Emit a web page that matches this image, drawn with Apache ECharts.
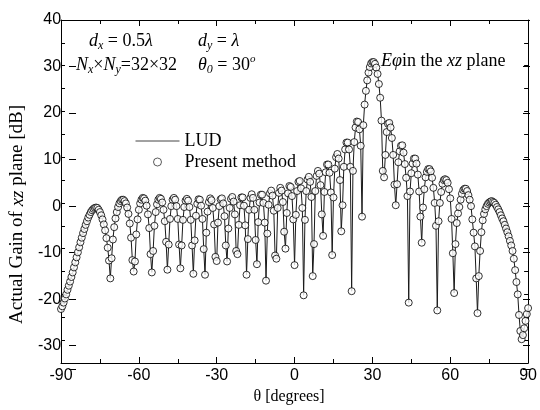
<!DOCTYPE html>
<html>
<head>
<meta charset="utf-8">
<script src="https://cdn.jsdelivr.net/npm/echarts@6/dist/echarts.min.js"></script>
<style>
  html, body { margin: 0; padding: 0; background: #fff; }
  #chart { width: 540px; height: 410px; }
</style>
</head>
<body>
<div id="chart"></div>
<script>
// angle grid of the pattern samples (degrees)
var thetaStart = -90;
var thetaStep = 0.5;
// actual gain in the xz plane [dB], one value every 0.5 deg from -90 to 90
var gainDb = [
  -23.2, -22.6, -21.8, -20.9, -20.0, -19.0, -18.1, -17.2, -16.2, -15.2,  // -90
  -14.1, -13.0, -11.9, -10.8, -9.7, -8.6, -7.6, -6.6, -5.7, -4.8,        // -85
  -4.0, -3.2, -2.6, -2.0, -1.6, -1.3, -1.1, -1.0, -1.1, -1.5,            // -80
  -2.0, -2.7, -3.6, -4.7, -6.0, -7.7, -9.8, -12.6, -16.5, -12.1,         // -75
  -8.0, -5.3, -3.4, -2.0, -0.9, -0.1, 0.4, 0.7, 0.7, 0.4,                // -70
  -0.1, -1.0, -2.4, -4.5, -7.6, -12.5, -15.0, -12.8, -6.9, -3.6,         // -65
  -1.5, -0.1, 0.7, 1.1, 1.0, 0.5, -0.6, -2.5, -5.5, -11.2,               // -60
  -15.2, -10.5, -5.0, -2.0, -0.3, 0.7, 1.1, 0.9, 0.1, -1.5,              // -55
  -4.0, -8.5, -14.6, -9.1, -3.5, -0.7, 0.7, 1.1, 0.7, -0.7,              // -50
  -3.5, -9.1, -14.3, -9.3, -3.7, -0.9, 0.5, 0.9, 0.5, -0.9,              // -45
  -3.7, -9.3, -15.5, -8.2, -2.8, -0.2, 0.8, 0.7, -0.6, -3.5,             // -40
  -10.1, -15.7, -6.5, -1.9, 0.2, 1.0, 0.6, -1.1, -4.7, -11.8,            // -35
  -12.7, -4.3, -0.7, 0.8, 1.0, -0.1, -2.9, -9.3, -12.8, -5.6,            // -30
  -1.1, 0.9, 1.3, 0.3, -2.5, -10.5, -11.2, -4.8, -0.5, 1.2,              // -25
  1.2, -0.6, -4.9, -15.7, -7.9, -1.5, 1.1, 1.9, 1.1, -1.5,               // -20
  -8.1, -13.4, -4.2, 0.1, 1.8, 1.8, 0.0, -4.3, -17.0, -6.7,              // -15
  -0.4, 2.1, 2.7, 1.6, -1.7, -11.5, -12.2, -1.1, 2.2, 3.3,               // -10
  2.7, 0.2, -6.3, -10.0, -2.2, 2.1, 3.7, 3.5, 1.5, -3.6,                 // -5
  -13.6, -2.6, 2.6, 4.6, 4.8, 3.2, -1.1, -20.2, -3.7, 2.6,               // 0
  5.1, 5.7, 4.6, 1.3, -16.0, -9.0, 2.6, 5.9, 7.0, 6.4,                   // 5
  3.9, -2.5, -7.2, 2.4, 6.7, 8.4, 8.4, 6.6, 2.3, -11.4,                  // 10
  1.2, 7.5, 10.0, 10.7, 9.7, 5.0, -6.2, -0.5, 7.9, 11.7,                 // 15
  13.2, 13.2, 11.7, 7.9, -19.3, 7.0, 13.3, 16.5, 17.8, 17.7,             // 20
  16.1, 12.5, -3.0, 17.0, 21.5, 24.5, 26.8, 28.5, 29.7, 30.5,            // 25
  30.8, 30.8, 30.4, 29.6, 28.2, 26.0, 23.0, 18.0, 7.0, 5.6,              // 30
  10.5, 15.5, 17.3, 17.5, 16.5, 14.2, 10.5, 4.0, -0.5, 4.1,              // 35
  8.9, 11.3, 12.5, 12.6, 11.0, 8.5, 5.5, 1.5, -21.8, 2.5,                // 40
  6.5, 8.6, 9.7, 9.7, 8.6, 6.2, 2.5, -3.0, -8.7, -1.0,                   // 45
  3.0, 5.6, 6.8, 7.4, 7.4, 6.9, 5.5, 3.3, 0.0, -5.0,                     // 50
  -23.5, -4.0, 0.0, 2.4, 4.2, 5.0, 5.2, 5.0, 4.4, 3.0,                   // 55
  1.0, -3.5, -11.0, -19.7, -9.0, -4.4, -2.3, -0.9, 0.7, 2.0,             // 60
  2.8, 3.1, 3.1, 2.6, 1.7, 0.7, -0.7, -3.6, -6.5, -9.5,                  // 65
  -16.5, -24.1, -16.0, -10.5, -6.4, -3.8, -2.4, -1.4, -0.7, -0.2,        // 70
  0.1, 0.3, 0.4, 0.2, 0.0, -0.4, -0.9, -1.4, -2.0, -2.7,                 // 75
  -3.4, -4.0, -4.8, -5.6, -6.4, -7.3, -8.3, -9.3, -10.5, -12.2,          // 80
  -14.7, -17.3, -20.0, -24.5, -28.0, -29.8, -28.9, -27.4, -25.8, -24.3,  // 85
  -23.0                                                                  // 90
];
var seriesNames = ['LUD', 'Present method'];

var serif = '"Liberation Serif", "Times New Roman", serif';
var sans = '"Liberation Sans", Arial, sans-serif';

var points = gainDb.map(function (g, i) {
  return [thetaStart + i * thetaStep, g];
});

var chart = echarts.init(document.getElementById('chart'));

var gridRect = { left: 61, right: 10, top: 20, bottom: 41 };
var lineBlack = { color: '#000', width: 1 };

// rich styles for the annotations (italic symbols, sub/superscripts)
var annoRich = {
  n: { fontFamily: serif, fontSize: 18, fill: '#000' },
  i: { fontFamily: serif, fontSize: 18, fontStyle: 'italic', fill: '#000' },
  s: { fontFamily: serif, fontSize: 12, fontStyle: 'italic', fill: '#000', padding: [10, 0, 0, 0] },
  u: { fontFamily: serif, fontSize: 11, fontStyle: 'italic', fill: '#000', padding: [0, 0, 12, 0] }
};
function anno(x, y, text) {
  return {
    type: 'text', x: x, y: y, z: 100,
    style: { text: text, rich: annoRich, fill: '#000', align: 'left', verticalAlign: 'middle' }
  };
}

function xAxisCfg(pos, showLabel) {
  return {
    gridIndex: 0, type: 'value', position: pos,
    min: -90, max: 90, interval: 30,
    axisLine: { show: true, onZero: false, lineStyle: lineBlack },
    axisTick: { show: true, inside: true, length: 6, lineStyle: lineBlack },
    minorTick: { show: true, splitNumber: 2, length: 4, lineStyle: lineBlack },
    axisLabel: { show: showLabel, color: '#000', fontSize: 16, fontFamily: sans, margin: 5 },
    splitLine: { show: false }
  };
}
function yMinorCfg(pos) {
  return {
    gridIndex: 0, type: 'value', position: pos,
    min: -35, max: 40, interval: 5,
    axisLine: { show: true, onZero: false, lineStyle: lineBlack },
    axisTick: { show: true, inside: true, length: 4, lineStyle: lineBlack },
    axisLabel: { show: false },
    splitLine: { show: false }
  };
}
function yMajorCfg(pos, showLabel) {
  return {
    gridIndex: 1, type: 'value', position: pos,
    min: -35, max: 40, splitNumber: 8,
    axisLine: { show: false, onZero: false },
    axisTick: { show: true, inside: true, length: 7, lineStyle: lineBlack },
    axisLabel: {
      show: showLabel, color: '#000', fontSize: 16, fontFamily: sans, margin: 8,
      formatter: function (v) { return v % 10 === 0 ? String(v) : ''; }
    },
    splitLine: { show: false }
  };
}

var xBottom = xAxisCfg('bottom', true);
xBottom.name = 'θ [degrees]';
xBottom.nameLocation = 'middle';
xBottom.nameGap = 26;
xBottom.nameTextStyle = { fontFamily: serif, fontSize: 16, color: '#000', padding: [0, 11, 0, 0] };

var yLeft = yMajorCfg('left', true);
yLeft.name = '{n|Actual Gain of }{i|xz}{n| plane [dB]}';
yLeft.nameLocation = 'middle';
yLeft.nameGap = 34;
yLeft.nameTextStyle = {
  fontFamily: serif, fontSize: 19, color: '#000', padding: [0, 40, 0, 0],
  rich: {
    n: { fontFamily: serif, fontSize: 19, color: '#000' },
    i: { fontFamily: serif, fontSize: 19, color: '#000', fontStyle: 'italic' }
  }
};

var option = {
  animation: false,
  backgroundColor: '#fff',
  grid: [Object.assign({}, gridRect), Object.assign({}, gridRect)],
  xAxis: [
    xBottom,
    xAxisCfg('top', false),
    { gridIndex: 1, type: 'value', min: -90, max: 90, show: false, axisLine: { onZero: false } }
  ],
  yAxis: [
    yMinorCfg('left'),
    yMinorCfg('right'),
    yLeft,
    yMajorCfg('right', false)
  ],
  legend: {
    left: 130, top: 127, orient: 'vertical',
    itemWidth: 44, itemHeight: 8, itemGap: 3,
    textStyle: { fontFamily: serif, fontSize: 18, color: '#000' },
    data: [
      { name: seriesNames[0], itemStyle: { opacity: 0 }, lineStyle: { color: '#444', width: 1 } },
      { name: seriesNames[1], itemStyle: { color: '#fff', borderColor: '#000', borderWidth: 0.8 } }
    ]
  },
  series: [
    {
      name: seriesNames[0], type: 'line', xAxisIndex: 0, yAxisIndex: 0,
      data: points, symbol: 'none', showSymbol: false,
      itemStyle: { color: '#1a1a1a' },
      lineStyle: { color: '#1a1a1a', width: 1 }, z: 2
    },
    {
      name: seriesNames[1], type: 'scatter', xAxisIndex: 0, yAxisIndex: 0,
      data: points, symbol: 'circle', symbolSize: 7,
      itemStyle: { color: '#fff', borderColor: '#000', borderWidth: 1 }, z: 3
    }
  ],
  graphic: [
    anno(89, 41, '{i|d}{s|x}{n| = 0.5}{i|λ}'),
    anno(198, 41, '{i|d}{s|y}{n| = }{i|λ}'),
    anno(76, 65, '{i|N}{s|x}{n|×}{i|N}{s|y}{n|=32×32}'),
    anno(198, 65, '{i|θ}{s|0}{n| = 30}{u|o}'),
    anno(381, 61, '{i|Eφ}{n|in the }{i|xz}{n| plane}')
  ]
};

chart.setOption(option);
</script>
</body>
</html>
